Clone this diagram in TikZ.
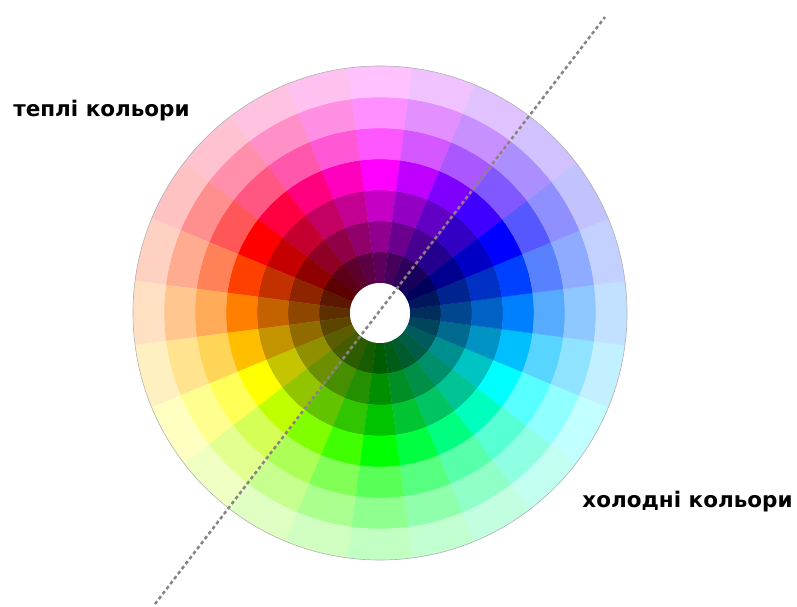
\documentclass[tikz,border=0pt]{standalone}
\usepackage{fontspec}
\newfontfamily\labelfont{DejaVu Sans}

\tikzset{
  lbl/.style={font=\labelfont\bfseries\fontsize{21.5}{25}\selectfont,inner sep=0pt,anchor=base},
  divider/.style={draw=black!48,line width=2.5pt,dash pattern=on 3.5pt off 2.8pt}
}

\begin{document}
\begin{tikzpicture}[x=1pt,y=1pt]
  \useasboundingbox (0,0) rectangle (797,607);
  \coordinate (c) at (380,294);
  % wheel: 24 hues, 3 shades, pure ring, 3 tints
  \foreach \k in {0,...,23} {
    \pgfmathsetmacro{\a}{90+15*\k}
    \pgfmathsetmacro{\h}{mod(300+15*\k,360)}
    \definecolor{huehsb}{Hsb}{\h,1,1}
    \colorlet{hue}[rgb]{huehsb}
    \foreach \ri/\ro/\mix in {30/61/hue!36!black,61/92/hue!56!black,92/123/hue!77!black,
                              123/154/hue,154/185/hue!66!white,185/216/hue!44!white,216/247/hue!24!white} {
      \filldraw[fill=\mix,draw=\mix,line width=0.3pt,shift={(c)}]
        (\a-7.5:\ri) arc[start angle=\a-7.5,end angle=\a+7.5,radius=\ri]
        -- (\a+7.5:\ro) arc[start angle=\a+7.5,end angle=\a-7.5,radius=\ro] -- cycle;
    }
  }
  \fill[white] (c) circle[radius=30];
  \draw[black!30,line width=0.6pt] (c) circle[radius=247];

  \coordinate (upper) at (605,590);
  \coordinate (lower) at (155,3);
  \draw[divider] (lower) -- (upper);

  \node[lbl] (warm) at (101.5,490) {теплі кольори};
  \node[lbl] (cold) at (687.5,99) {холодні кольори};
\end{tikzpicture}
\end{document}
